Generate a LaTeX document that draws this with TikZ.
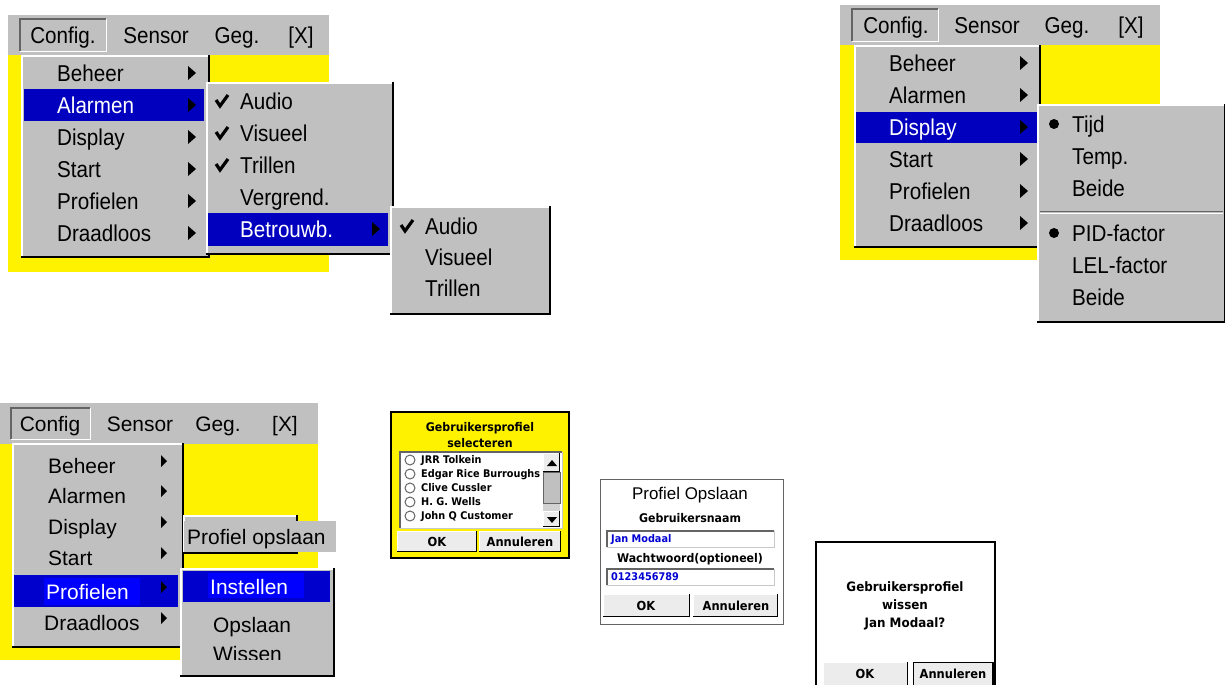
\documentclass[tikz,border=0pt]{standalone}
\usepackage{fontspec}
\setmainfont{Liberation Sans}
\newfontfamily\menufont[FakeStretch=0.9]{Liberation Sans}
\newfontfamily\dlgfont[FakeStretch=0.92]{DejaVu Sans}

\definecolor{menugray}{RGB}{192,192,192}
\definecolor{selblue}{RGB}{0,0,190}
\definecolor{barblue}{RGB}{0,0,205}
\definecolor{brightblue}{RGB}{0,0,255}
\definecolor{btngray}{RGB}{236,236,236}
\definecolor{darkedge}{RGB}{100,100,100}
\definecolor{fieldblue}{RGB}{0,0,210}
\definecolor{lightedge}{RGB}{200,200,200}

% raised window, sunken field, button, arrow, tick
\newcommand\menupanel[4]{%
  \fill[menugray] (#1,#2) rectangle (#3,#4);
  \draw[white,line width=1.5pt] (#1+1,#4-2) -- (#1+1,#2+1) -- (#3-2,#2+1);
  \draw[black,line width=2pt] (#1,#4-1) -- (#3-1,#4-1) -- (#3-1,#2);}
\newcommand\sunkenbox[6]{%
  \fill[#5] (#1,#2) rectangle (#3,#4);
  \draw[#6,line width=1pt] (#1,#4) -- (#3,#4) -- (#3,#2);
  \draw[darkedge,line width=1.2pt] (#1,#4) -- (#1,#2) -- (#3,#2);}
\newcommand\dlgbutton[4]{%
  \fill[btngray] (#1,#2) rectangle (#3,#4);
  \draw[white,line width=1pt] (#1+0.5,#4) -- (#1+0.5,#2+0.5) -- (#3,#2+0.5);
  \draw[black,line width=1.5pt] (#1,#4-0.7) -- (#3-0.7,#4-0.7) -- (#3-0.7,#2);}
\newcommand\subarrow[2]{\fill[black] (#1,#2-7) -- (#1+8,#2) -- (#1,#2+7) -- cycle;}
\newcommand\smallarrow[2]{\fill[black] (#1,#2-6) -- (#1+6,#2) -- (#1,#2+6) -- cycle;}
\newcommand\checkmk[2]{\draw[black,line width=3.2pt] (#1,#2-1) -- (#1+4,#2+5) -- (#1+12,#2-6);}

\tikzset{
  menutxt/.style={font=\menufont\fontsize{23}{23}\selectfont, inner sep=0pt,
    text height=16.5pt, text depth=0pt, anchor=west},
  bartxt/.style={menutxt, anchor=center},
  armtxt/.style={font=\fontsize{21}{21}\selectfont, inner sep=0pt,
    text height=15pt, text depth=0pt, anchor=west},
  dlgtxt/.style={font=\dlgfont\bfseries\fontsize{12}{12}\selectfont, inner sep=0pt,
    text height=8.7pt, text depth=0pt},
  listtxt/.style={font=\dlgfont\bfseries\fontsize{10.6}{10.6}\selectfont, inner sep=0pt,
    text height=7.7pt, text depth=0pt, anchor=west},
  btntxt/.style={font=\dlgfont\bfseries\fontsize{12.5}{12.5}\selectfont, inner sep=0pt,
    text height=9pt, text depth=0pt},
  wistxt/.style={dlgtxt, font=\dlgfont\bfseries\fontsize{13}{13}\selectfont,
    text height=9.5pt},
}

\begin{document}
\begin{tikzpicture}[x=1bp, y=-1bp]
\useasboundingbox (0,0) rectangle (1225,685);

%% panel 1: Alarmen
\fill[menugray] (8,15) rectangle (329,55);
\fill[yellow] (8,55) rectangle (329,272);
\sunkenbox{20}{19}{106}{51}{menugray}{white}
\foreach \lbl/\xx [count=\i] in {Config./63, Sensor/156, Geg./237, {[X]}/301}
  \node[bartxt] (pa-bar\i) at (\xx,35) {\lbl};
\menupanel{21}{55}{210}{258}
\fill[selblue] (24,89) rectangle (204,121);
\foreach \lbl/\col [count=\i] in {Beheer/black, Alarmen/white, Display/black,
    Start/black, Profielen/black, Draadloos/black}{
  \node[menutxt, text=\col] (pa-m\i) at (57,41+32*\i) {\lbl};
  \subarrow{188}{41+32*\i}
}
\menupanel{206}{82}{394}{255}
\fill[selblue] (208,213) rectangle (388,246);
\foreach \lbl/\col [count=\i] in {Audio/black, Visueel/black, Trillen/black,
    Vergrend./black, Betrouwb./white}
  \node[menutxt, text=\col] (pa-s\i) at (240,69+32*\i) {\lbl};
\checkmk{216}{101}
\checkmk{216}{133}
\checkmk{216}{165}
\subarrow{372}{229}
\menupanel{390}{206}{551}{315}
\foreach \lbl [count=\i] in {Audio, Visueel, Trillen}
  \node[menutxt] (pa-t\i) at (425,195+31*\i) {\lbl};
\checkmk{401}{226}

%% panel 2: Display
\fill[menugray] (840,5) rectangle (1160,45);
\fill[yellow] (840,45) rectangle (1160,260);
\sunkenbox{852}{9}{938}{41}{menugray}{white}
\foreach \lbl/\xx [count=\i] in {Config./896, Sensor/987, Geg./1067, {[X]}/1131}
  \node[bartxt] (pb-bar\i) at (\xx,25) {\lbl};
\menupanel{854}{45}{1041}{248}
\fill[selblue] (856,112) rectangle (1037,143);
\foreach \lbl/\col [count=\i] in {Beheer/black, Alarmen/black, Display/white,
    Start/black, Profielen/black, Draadloos/black}{
  \node[menutxt, text=\col] (pb-m\i) at (889,31+32*\i) {\lbl};
  \subarrow{1020}{31+32*\i}
}
\menupanel{1037}{104}{1226}{323}
\draw[darkedge,line width=1pt] (1040,211) -- (1223,211);
\draw[white,line width=1pt] (1040,213) -- (1223,213);
\foreach \lbl [count=\i] in {Tijd, Temp., Beide}
  \node[menutxt] (pb-s\i) at (1072,92+32*\i) {\lbl};
\foreach \lbl [count=\i] in {PID-factor, LEL-factor, Beide}
  \node[menutxt] (pb-t\i) at (1072,201+32*\i) {\lbl};
\fill[black] (1054,124) circle (5bp);
\fill[black] (1054,233) circle (5bp);

%% panel 3: Profielen
\fill[menugray] (0,403) rectangle (318,444);
\fill[yellow] (0,444) rectangle (318,660);
\sunkenbox{11}{408}{90}{439}{menugray}{white}
\foreach \lbl/\xx [count=\i] in {Config/50, Sensor/140, Geg./218, {[X]}/285}
  \node[armtxt, anchor=center] (pc-bar\i) at (\xx,424) {\lbl};
\menupanel{12}{443}{184}{648}
\fill[barblue] (14,575) rectangle (178,607);
\fill[brightblue] (44,578) rectangle (140,605);
\foreach \lbl/\yy/\xx/\col [count=\i] in {Beheer/466/48/black, Alarmen/496/48/black,
    Display/527/48/black, Start/558/48/black, Profielen/592/46/white,
    Draadloos/623/44/black}{
  \node[armtxt, text=\col] (pc-m\i) at (\xx,\yy) {\lbl};
  \smallarrow{161}{\yy-5}
}
\menupanel{183}{515}{298}{554}
\fill[menugray] (184,521) rectangle (336,552);
\node[armtxt] (pc-save) at (187,537) {Profiel opslaan};
\menupanel{180}{568}{335}{677}
\fill[barblue] (183,571) rectangle (330,602);
\fill[brightblue] (208,573) rectangle (304,598);
\node[armtxt, text=white] (pc-s1) at (210,587) {Instellen};
\node[armtxt] (pc-s2) at (213,625) {Opslaan};
\begin{scope}
  \clip (180,640) rectangle (335,659);
  \node[armtxt] (pc-s3) at (213,654) {Wissen};
\end{scope}

%% panel 4: profiel selecteren
\fill[yellow] (391,412) rectangle (569,558);
\draw[black,line width=1.5pt] (391,412) rectangle (569,558);
\node[dlgtxt] (pd-title1) at (480,427) {Gebruikersprofiel};
\node[dlgtxt] (pd-title2) at (480,443) {selecteren};
\sunkenbox{400}{452}{562}{528}{white}{lightedge}
\foreach \lbl [count=\i] in {JRR Tolkein, Edgar Rice Burroughs, Clive Cussler,
    H. G. Wells, John Q Customer}{
  \draw[darkedge, fill=white, line width=1pt] (410,446+14*\i) circle (5bp);
  \node[listtxt] (pd-l\i) at (421,446+14*\i) {\lbl};
}
\fill[menugray] (543,472) rectangle (560,503);
\fill[gray!35] (543,503) rectangle (560,511);
\dlgbutton{543}{453}{560}{472}
\dlgbutton{543}{511}{560}{527}
\draw[darkedge] (543,472) rectangle (560,503);
\fill[black] (547,466) -- (552,460) -- (557,466) -- cycle;
\fill[black] (547,517) -- (552,523) -- (557,517) -- cycle;
\dlgbutton{397}{531}{477}{552}
\dlgbutton{479}{531}{561}{552}
\node[btntxt] (pd-ok) at (437,542) {OK};
\node[btntxt] (pd-cancel) at (520,542) {Annuleren};

%% panel 5: profiel opslaan
\fill[white] (600,479) rectangle (783,624);
\draw[darkedge,line width=1pt] (600,479) rectangle (783,624);
\node[font=\fontsize{17}{17}\selectfont, inner sep=0pt, text height=12.2pt,
  text depth=0pt] (pe-title) at (690,493) {Profiel Opslaan};
\node[dlgtxt] (pe-name) at (690,518) {Gebruikersnaam};
\sunkenbox{607}{531}{774}{547}{white}{lightedge}
\node[listtxt, text=fieldblue] (pe-namefld) at (611,539) {Jan Modaal};
\node[dlgtxt] (pe-pass) at (690,558) {Wachtwoord(optioneel)};
\sunkenbox{607}{569}{774}{585}{white}{lightedge}
\node[listtxt, text=fieldblue] (pe-passfld) at (611,577) {0123456789};
\dlgbutton{603}{594}{690}{617}
\dlgbutton{693}{594}{778}{617}
\node[btntxt] (pe-ok) at (646,606) {OK};
\node[btntxt] (pe-cancel) at (736,606) {Annuleren};

%% panel 6: profiel wissen
\fill[white] (816,542) rectangle (995,685);
\draw[black,line width=1.2pt] (816,685) -- (816,542) -- (995,542) -- (995,685);
\node[wistxt] (pf-l1) at (905,587) {Gebruikersprofiel};
\node[wistxt] (pf-l2) at (905,605) {wissen};
\node[wistxt] (pf-l3) at (905,623) {Jan Modaal?};
\dlgbutton{823}{662}{908}{686}
\dlgbutton{913}{662}{993}{686}
\draw[black,line width=1pt] (913,662) rectangle (993,685);
\node[btntxt] (pf-ok) at (865,674) {OK};
\node[btntxt] (pf-cancel) at (953,674) {Annuleren};

\end{tikzpicture}
\end{document}
